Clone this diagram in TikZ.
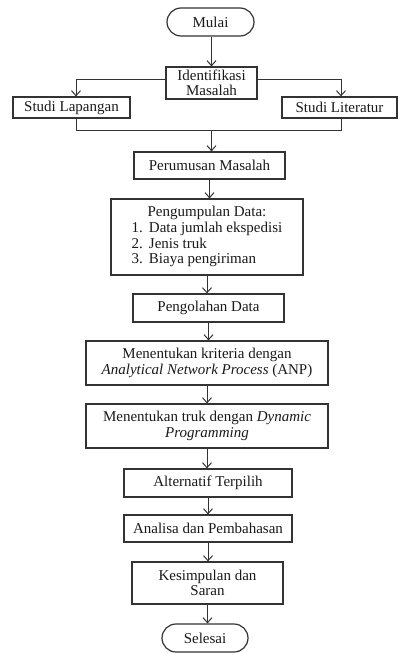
\documentclass[tikz,border=0pt]{standalone}
\usepackage{fontspec}
\setmainfont{Liberation Serif}
\usetikzlibrary{arrows.meta}
\begin{document}
\begin{tikzpicture}[x=1pt,y=-1pt,
  box/.style={draw=black!80, line width=1.2pt, inner sep=0pt, align=center, font=\fontsize{15}{15.5}\selectfont, text=black!90},
  term/.style={box, rounded corners=14pt},
  arr/.style={draw=black!80, line width=1pt, -{Straight Barb[length=5pt,width=9pt]}},
  ln/.style={draw=black!80, line width=1pt}]
\useasboundingbox (0,0) rectangle (400,653);
\node[term, minimum width=87pt, minimum height=28pt] (mulai) at (210.5,22) {Mulai};
\node[box, minimum width=91pt, minimum height=32pt] (ident) at (211.5,83) {Identifikasi\\Masalah};
\node[box, minimum width=117pt, minimum height=21pt] (lap) at (71.5,107.5) {Studi Lapangan};
\node[box, minimum width=115pt, minimum height=21pt] (lit) at (339.5,107.5) {Studi Literatur};
\node[box, minimum width=151pt, minimum height=27pt] (rum) at (209.5,165.5) {Perumusan Masalah};
\node[box, minimum width=192pt, minimum height=76pt] (kumpul) at (207,237) {%
  \begin{tabular}{@{}l@{\hspace{6pt}}l@{}}
  \multicolumn{2}{c}{Pengumpulan Data:}\\[1pt]
  1. & Data jumlah ekspedisi\\
  2. & Jenis truk\\
  3. & Biaya pengiriman
  \end{tabular}};
\node[box, minimum width=151pt, minimum height=28pt] (olah) at (208.5,308) {Pengolahan Data};
\node[box, minimum width=242pt, minimum height=44pt] (anp) at (207,363) {Menentukan kriteria dengan\\\textit{Analytical Network Process} (ANP)};
\node[box, minimum width=242pt, minimum height=44pt] (dp) at (207,426) {Menentukan truk dengan \textit{Dynamic}\\\textit{Programming}};
\node[box, minimum width=168pt, minimum height=28pt] (alt) at (208,483) {Alternatif Terpilih};
\node[box, minimum width=168pt, minimum height=27pt] (ana) at (208,528.5) {Analisa dan Pembahasan};
\node[box, minimum width=151pt, minimum height=42pt] (kes) at (207.5,583) {Kesimpulan dan\\Saran};
\node[term, minimum width=86pt, minimum height=28pt] (sel) at (205,638) {Selesai};
\coordinate (jl) at (76,130);
\coordinate (jr) at (341,130);
\coordinate (jc) at (211.5,130);
\draw[arr] (mulai.south -| ident.north) -- (ident.north);
\draw[arr] ([yshift=4pt]ident.west) -- ([yshift=4pt]ident.west -| jl) -- (jl |- lap.north);
\draw[arr] ([yshift=4pt]ident.east) -- ([yshift=4pt]ident.east -| jr) -- (jr |- lit.north);
\draw[ln] (jl |- lap.south) -- (jl) -- (jr) -- (jr |- lit.south);
\draw[arr] (jc) -- (jc |- rum.north);
\draw[arr] (rum.south) -- (rum.south |- kumpul.north);
\draw[arr] (kumpul.south) -- (kumpul.south |- olah.north);
\draw[arr] (olah.south) -- (olah.south |- anp.north);
\draw[arr] (anp.south) -- (anp.south |- dp.north);
\draw[arr] (dp.south) -- (dp.south |- alt.north);
\draw[arr] (alt.south) -- (alt.south |- ana.north);
\draw[arr] (ana.south) -- (ana.south |- kes.north);
\draw[arr] (kes.south) -- (kes.south |- sel.north);
\end{tikzpicture}
\end{document}
